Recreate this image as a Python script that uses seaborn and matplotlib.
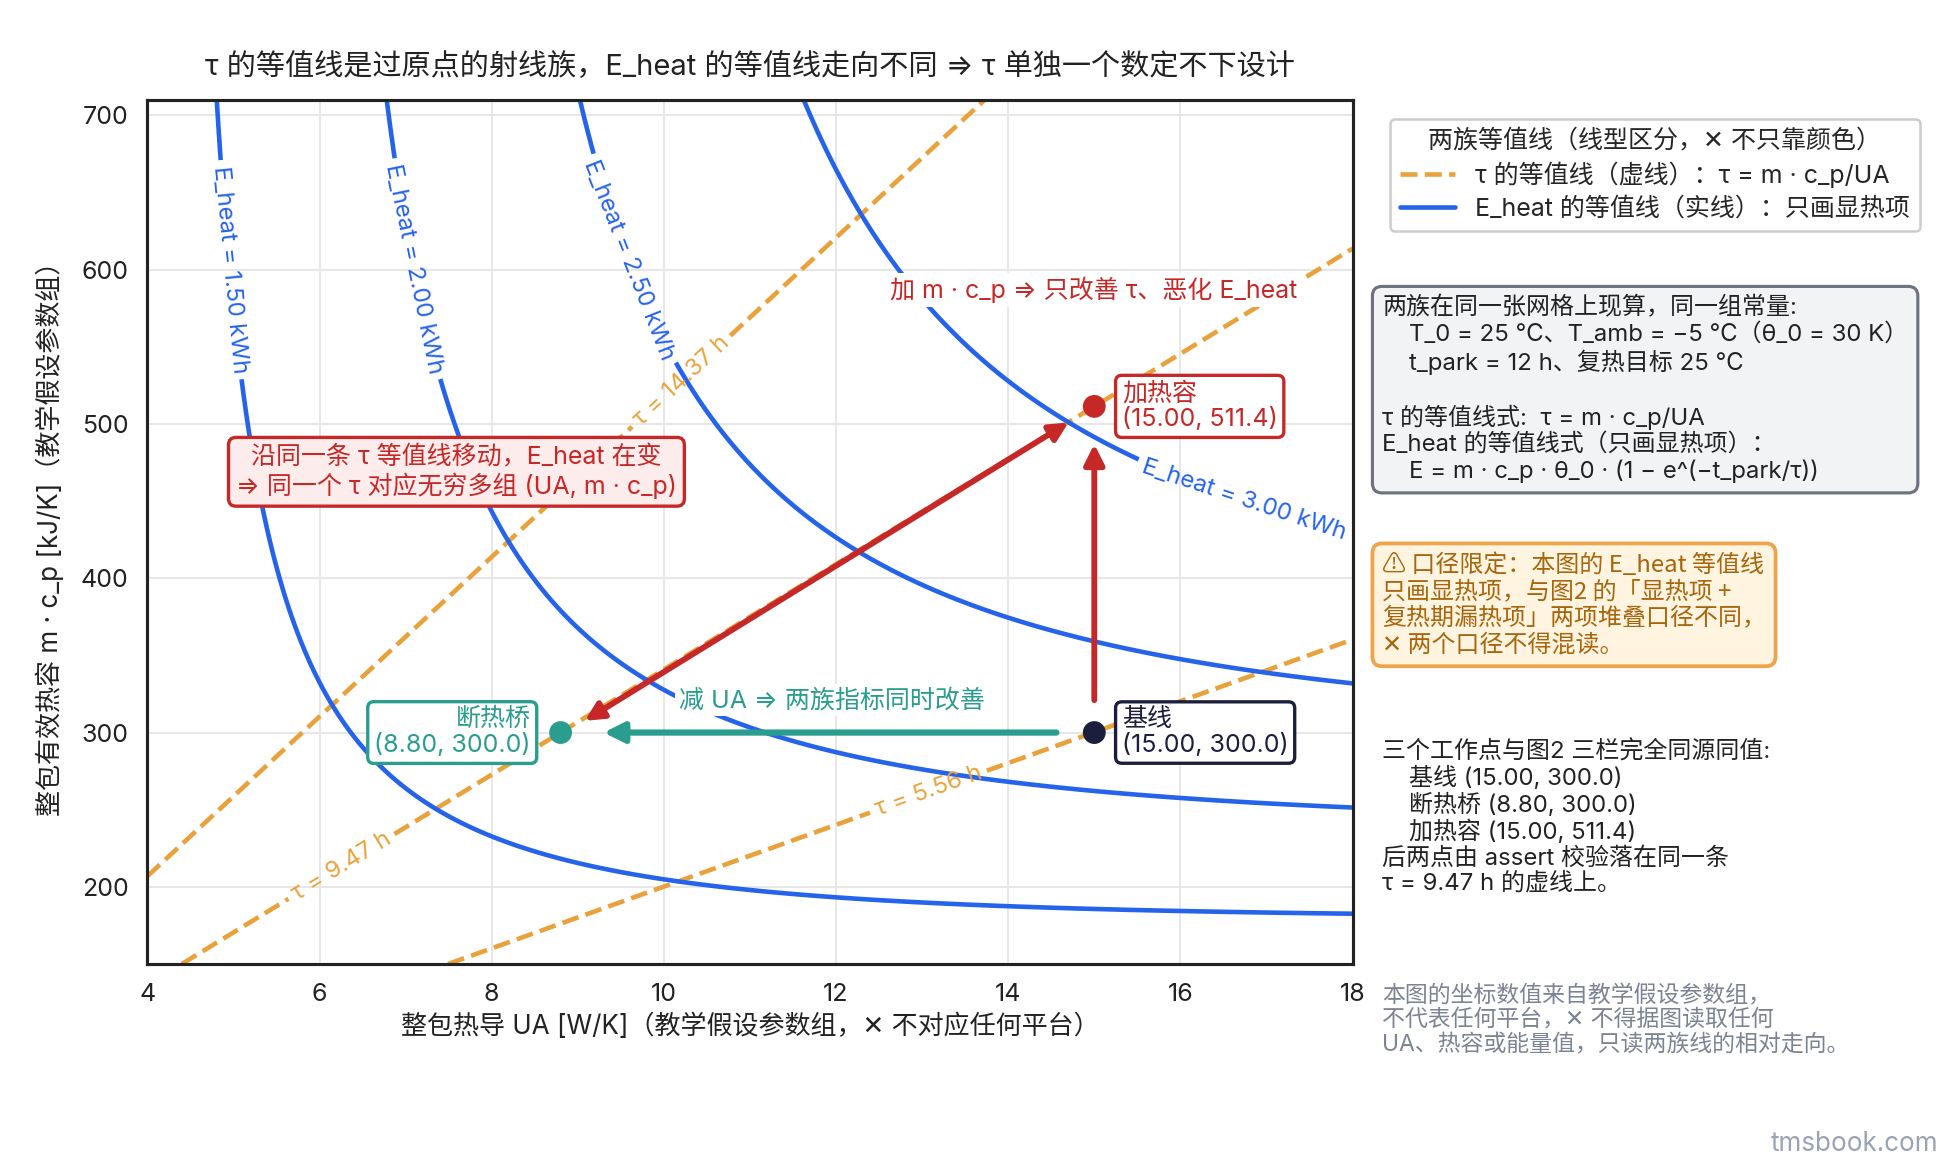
import numpy as np
import matplotlib
matplotlib.use("Agg")
import matplotlib.pyplot as plt
import seaborn as sns
import pandas as pd
from matplotlib.lines import Line2D

# ---------------- data ----------------
point_names = ["基线", "断热桥", "加热容"]
point_UA = [15.00, 8.80, 15.00]          # W/K
point_mcp = [300.0, 300.0, 511.4]        # kJ/K
tau_levels = [5.56, 9.47, 14.37]         # h
E_levels = [1.50, 2.00, 2.50, 3.00]      # kWh
T_0 = 25.0
T_amb = -5.0
t_park = 12.0
x_ticks = [4, 6, 8, 10, 12, 14, 16, 18]
y_ticks = [200, 300, 400, 500, 600, 700]
UA_range = [4, 18]
mcp_range = [150, 710]

# ---------------- style ----------------
sns.set_theme(style="whitegrid")
plt.rcParams['font.family'] = ['Inter', 'Noto Sans CJK SC', 'DejaVu Sans']
plt.rcParams['axes.unicode_minus'] = False

ORANGE = '#E9A23B'
BLUE = '#2563EB'
RED = '#C62828'
TEAL = '#2A9D8F'
NAVY = '#1B1F3B'
DARK = '#222222'
X_MARK = '✕'

fig = plt.figure(figsize=(13, 7.74), dpi=150)
ax = fig.add_axes([0.0756, 0.1697, 0.618, 0.7442])

# grid computed on the stated model
UA = np.linspace(UA_range[0], UA_range[1], 500)
MCP = np.linspace(mcp_range[0], mcp_range[1], 500)
X, Y = np.meshgrid(UA, MCP)
theta0 = T_0 - T_amb
TAU = Y * 1000.0 / X / 3600.0
E = Y * theta0 * (1 - np.exp(-t_park / TAU)) / 3600.0

cs_tau = ax.contour(X, Y, TAU, levels=tau_levels, colors=ORANGE,
                    linestyles='--', linewidths=2.2, zorder=2)
cs_E = ax.contour(X, Y, E, levels=E_levels, colors=BLUE,
                  linewidths=2.2, zorder=2)

ax.clabel(cs_E, fmt=lambda v: f"E_heat = {v:.2f} kWh",
          manual=[(4.97, 600), (7.08, 600), (9.55, 605), (16.74, 451)],
          fontsize=11.5, inline=True, inline_spacing=6)
ax.clabel(cs_tau, fmt=lambda v: f"τ = {v:.2f} h",
          manual=[(13.0, 273), (6.18, 220), (10.13, 532)],
          fontsize=11.5, inline=True, inline_spacing=6)

# points
df = pd.DataFrame({'UA': point_UA, 'mcp': point_mcp, 'name': point_names})
sns.scatterplot(data=df, x='UA', y='mcp', hue='name',
                palette={'基线': NAVY, '断热桥': TEAL, '加热容': RED},
                s=120, linewidth=0, zorder=6, legend=False, ax=ax)

# arrows
ax.annotate('', xy=(9.30, 300), xytext=(14.56, 300),
            arrowprops=dict(arrowstyle='-|>', color=TEAL, lw=3.0,
                            mutation_scale=20, shrinkA=0, shrinkB=0), zorder=4)
ax.annotate('', xy=(15.0, 487), xytext=(15.0, 321),
            arrowprops=dict(arrowstyle='-|>', color=RED, lw=2.8,
                            mutation_scale=20, shrinkA=0, shrinkB=0), zorder=4)
ax.annotate('', xy=(9.08, 307.6), xytext=(14.70, 501),
            arrowprops=dict(arrowstyle='<|-|>', color=RED, lw=2.8,
                            mutation_scale=18, shrinkA=0, shrinkB=0), zorder=4)

# annotation texts
ax.text(10.17, 321, "减 UA ⇒ 两族指标同时改善", color=TEAL, fontsize=12,
        ha='left', va='center', zorder=5,
        bbox=dict(boxstyle='square,pad=0.15', fc='white', ec='none'))
ax.text(14.99, 587, "加 m · c_p ⇒ 只改善 τ、恶化 E_heat", color=RED, fontsize=12,
        ha='center', va='center', zorder=5,
        bbox=dict(boxstyle='square,pad=0.15', fc='white', ec='none'))
ax.text(7.59, 469, "沿同一条 τ 等值线移动，E_heat 在变\n⇒ 同一个 τ 对应无穷多组 (UA, m · c_p)",
        color=RED, fontsize=12, ha='center', va='center', zorder=7,
        multialignment='center', linespacing=1.15,
        bbox=dict(boxstyle='round,pad=0.3', fc='#FDECEC', ec=RED, lw=1.6))

ax.text(15.32, 511.4, "加热容\n(15.00, 511.4)", color=RED, fontsize=12,
        ha='left', va='center', zorder=7, linespacing=1.1,
        bbox=dict(boxstyle='round,pad=0.25', fc='white', ec=RED, lw=1.6))
ax.text(15.32, 300, "基线\n(15.00, 300.0)", color=NAVY, fontsize=12,
        ha='left', va='center', zorder=7, linespacing=1.1,
        bbox=dict(boxstyle='round,pad=0.25', fc='white', ec=NAVY, lw=1.6))
ax.text(8.45, 300, "断热桥\n(8.80, 300.0)", color=TEAL, fontsize=12,
        ha='right', va='center', zorder=7, linespacing=1.1, multialignment='right',
        bbox=dict(boxstyle='round,pad=0.25', fc='white', ec=TEAL, lw=1.6))

# axes
ax.set_xlim(*UA_range)
ax.set_ylim(*mcp_range)
ax.set_xticks(x_ticks)
ax.set_yticks(y_ticks)
ax.tick_params(axis='both', direction='out', length=5, width=1.2, color=DARK,
               labelsize=12, labelcolor=DARK, pad=4)
ax.grid(True, color='#E6E6E6', lw=0.9)
for sp in ax.spines.values():
    sp.set_color(DARK)
    sp.set_linewidth(1.5)
ax.set_xlabel(f"整包热导 UA [W/K]（教学假设参数组，{X_MARK} 不对应任何平台）",
              fontsize=12.5, color=DARK, labelpad=4)
ax.set_ylabel("整包有效热容 m · c_p [kJ/K]（教学假设参数组）",
              fontsize=12.5, color=DARK, labelpad=8)
ax.set_title("τ 的等值线是过原点的射线族，E_heat 的等值线走向不同 ⇒ τ 单独一个数定不下设计",
             fontsize=14, color=DARK, pad=12)

# legend
handles = [Line2D([0], [0], color=ORANGE, lw=2.2, ls='--'),
           Line2D([0], [0], color=BLUE, lw=2.2)]
labels = ["τ 的等值线（虚线）：τ = m · c_p/UA",
          "E_heat 的等值线（实线）：只画显热项"]
leg = fig.legend(handles, labels, title=f"两族等值线（线型区分，{X_MARK} 不只靠颜色）",
                 loc='upper left', bbox_to_anchor=(1390 / 1950, 1 - 119 / 1161),
                 borderaxespad=0,
                 fontsize=12, title_fontsize=12, frameon=True, fancybox=True,
                 edgecolor='#CCCCCC', facecolor='white', framealpha=1,
                 handlelength=2.2, borderpad=0.4, labelspacing=0.35)
leg.get_frame().set_linewidth(1.2)

# side texts
fig.text(1382 / 1950, 1 - 296 / 1161,
         "两族在同一张网格上现算，同一组常量:\n"
         "    T_0 = 25 ℃、T_amb = −5 ℃（θ_0 = 30 K）\n"
         "    t_park = 12 h、复热目标 25 ℃\n"
         "\n"
         "τ 的等值线式:  τ = m · c_p/UA\n"
         "E_heat 的等值线式（只画显热项）：\n"
         "    E = m · c_p · θ_0 · (1 − e^(−t_park/τ))",
         fontsize=11.5, color=DARK, ha='left', va='top', linespacing=1.2,
         bbox=dict(boxstyle='round,pad=0.4', fc='#F1F3F5', ec='#6B7280', lw=1.5))

fig.text(1382 / 1950, 1 - 553 / 1161,
         "⚠ 口径限定：本图的 E_heat 等值线\n"
         "只画显热项，与图2 的「显热项 +\n"
         "复热期漏热项」两项堆叠口径不同，\n"
         f"{X_MARK} 两个口径不得混读。",
         fontsize=11.5, color='#A8650B', ha='left', va='top', linespacing=1.2,
         family=['Noto Sans CJK SC', 'DejaVu Sans'],
         bbox=dict(boxstyle='round,pad=0.4', fc='#FFF4E0', ec='#F0A44A', lw=1.8))

fig.text(1382 / 1950, 1 - 740 / 1161,
         "三个工作点与图2 三栏完全同源同值:\n"
         "    基线 (15.00, 300.0)\n"
         "    断热桥 (8.80, 300.0)\n"
         "    加热容 (15.00, 511.4)\n"
         "后两点由 assert 校验落在同一条\n"
         "τ = 9.47 h 的虚线上。",
         fontsize=11.5, color=DARK, ha='left', va='top', linespacing=1.15)

fig.text(1382 / 1950, 1 - 985 / 1161,
         "本图的坐标数值来自教学假设参数组，\n"
         f"不代表任何平台，{X_MARK} 不得据图读取任何\n"
         "UA、热容或能量值，只读两族线的相对走向。",
         fontsize=11, color='#7B8494', ha='left', va='top', linespacing=1.15)

fig.text(1938 / 1950, 1 - 1144 / 1161, "tmsbook.com", fontsize=12.5,
         color='#9AA3B5', ha='right', va='center')

fig.savefig("out.png", dpi=150, facecolor='white')
